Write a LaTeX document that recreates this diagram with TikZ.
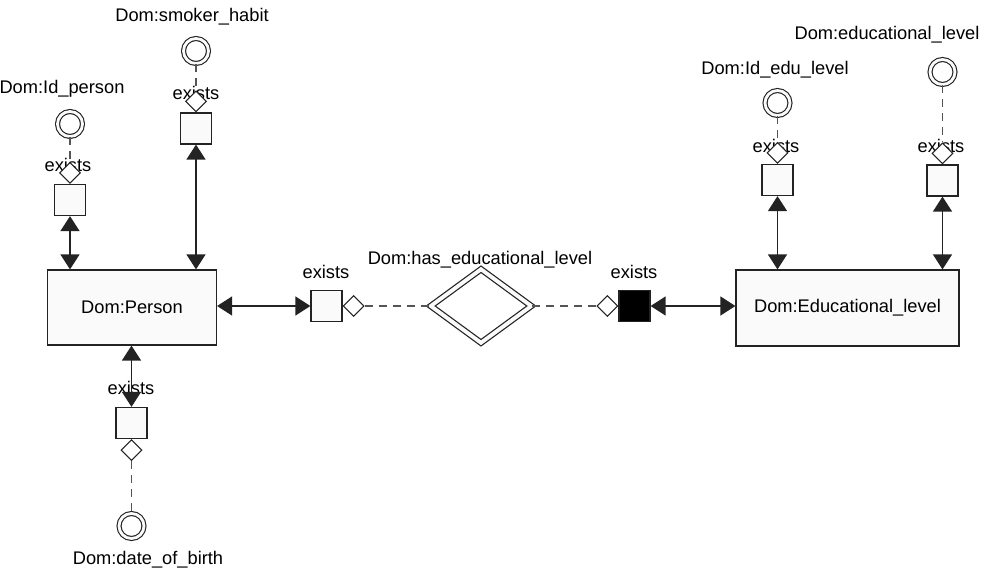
\documentclass[tikz,border=0pt]{standalone}
\usepackage{fontspec}
\setmainfont{Liberation Sans}
\usetikzlibrary{positioning, arrows.meta, shapes.geometric}
\definecolor{lineDark}{RGB}{35, 35, 35}
\definecolor{lineGray}{RGB}{85, 85, 85}
\definecolor{boxFill}{RGB}{250, 250, 250}

\begin{document}
\begin{tikzpicture}[x=0.02cm, y=-0.02cm, font=\fontsize{10.4}{12}\selectfont,
  entity/.style={draw=lineDark, fill=boxFill, line width=0.7pt, inner sep=0pt},
  rolebox/.style={draw=lineDark, fill=boxFill, line width=0.7pt, minimum size=0.62cm, inner sep=0pt},
  rolefull/.style={rolebox, fill=black},
  joint/.style={diamond, draw=lineDark, fill=white, line width=0.6pt, minimum size=0.42cm, inner sep=0pt},
  valnode/.style={circle, draw=lineDark, double=boxFill, double distance=1.6pt, line width=0.65pt, minimum size=0.5cm, inner sep=0pt},
  relnode/.style={diamond, draw=lineDark, double=boxFill, double distance=2.2pt, line width=0.7pt, minimum width=2.02cm, minimum height=1.48cm, inner sep=0pt},
  link/.style={{Triangle[length=0.3cm, width=0.38cm]}-{Triangle[length=0.3cm, width=0.38cm]}, draw=lineDark, line width=0.7pt},
  optlink/.style={draw=lineGray, dash pattern=on 0.16cm off 0.12cm, line width=0.7pt},
  lbl/.style={text=black, inner sep=0pt}]
  \useasboundingbox (0, 0) rectangle (988, 574);

  % labels first, so the small diamonds lie over them
  \node[lbl] (tIdP) at (62, 89) {Dom:Id\_person};
  \node[lbl] (tSmk) at (192, 17) {Dom:smoker\_habit};
  \node[lbl] (tDob) at (148, 560) {Dom:date\_of\_birth};
  \node[lbl] (tRel) at (480, 260) {Dom:has\_educational\_level};
  \node[lbl] (tIdE) at (775, 70) {Dom:Id\_edu\_level};
  \node[lbl] (tEdl) at (887, 35) {Dom:educational\_level};
  \node[lbl] (xIdP) at (68, 165) {exists};
  \node[lbl] (xSmk) at (196, 93) {exists};
  \node[lbl] (xDob) at (131, 388) {exists};
  \node[lbl] (xHas) at (326, 272) {exists};
  \node[lbl] (xEdu) at (634, 272) {exists};
  \node[lbl] (xIdE) at (776, 146) {exists};
  \node[lbl] (xEdl) at (941, 146) {exists};

  % entities
  \node[entity, minimum width=3.38cm, minimum height=1.5cm] (person) at (132, 307.5) {Dom:Person};
  \node[entity, minimum width=4.46cm, minimum height=1.52cm] (edu) at (847.5, 308) {Dom:Educational\_level};

  % roles
  \node[rolebox] (rIdP) at (70, 200) {};
  \node[rolebox] (rSmk) at (196, 128.5) {};
  \node[rolebox] (rDob) at (131.5, 423) {};
  \node[rolebox] (rHas) at (326.5, 306) {};
  \node[rolefull] (rEdu) at (634.5, 306) {};
  \node[rolebox] (rIdE) at (777.5, 180) {};
  \node[rolebox] (rEdl) at (942.5, 180.5) {};

  \node[joint, above=0pt of rIdP] (jIdP) {};
  \node[joint, above=0pt of rSmk] (jSmk) {};
  \node[joint, below=0pt of rDob] (jDob) {};
  \node[joint, right=0pt of rHas] (jHas) {};
  \node[joint, left=0pt of rEdu] (jEdu) {};
  \node[joint, above=0pt of rIdE] (jIdE) {};
  \node[joint, above=0pt of rEdl] (jEdl) {};

  % value domains
  \node[valnode] (vIdP) at (70, 124) {};
  \node[valnode] (vSmk) at (196, 51) {};
  \node[valnode] (vDob) at (131.5, 526) {};
  \node[valnode] (vIdE) at (777.5, 103) {};
  \node[valnode] (vEdl) at (942.5, 72) {};

  \node[relnode] (rel) at (481, 306) {};

  % connectors
  \draw[link] (rIdP.south) -- (rIdP.south |- person.north);
  \draw[link] (rSmk.south) -- (rSmk.south |- person.north);
  \draw[link] (rDob.north |- person.south) -- (rDob.north);
  \draw[link] (person.east |- rHas.west) -- (rHas.west);
  \draw[link] (rEdu.east) -- (rEdu.east -| edu.west);
  \draw[link] (rIdE.south) -- (rIdE.south |- edu.north);
  \draw[link] (rEdl.south) -- (rEdl.south |- edu.north);

  \draw[optlink] (vIdP) -- (jIdP);
  \draw[optlink] (vSmk) -- (jSmk);
  \draw[optlink] (jDob) -- (vDob);
  \draw[optlink] (jHas) -- (rel);
  \draw[optlink] (rel) -- (jEdu);
  \draw[optlink] (vIdE) -- (jIdE);
  \draw[optlink] (vEdl) -- (jEdl);
\end{tikzpicture}
\end{document}
